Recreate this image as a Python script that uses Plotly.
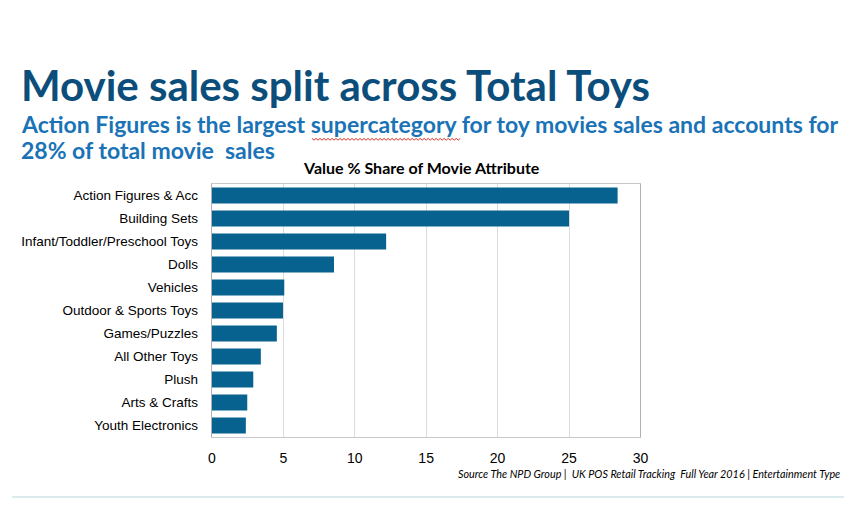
import plotly.graph_objects as go

categories = ["Action Figures & Acc", "Building Sets", "Infant/Toddler/Preschool Toys",
              "Dolls", "Vehicles", "Outdoor & Sports Toys", "Games/Puzzles",
              "All Other Toys", "Plush", "Arts & Crafts", "Youth Electronics"]
values = [28.4, 25.0, 12.2, 8.55, 5.07, 4.98, 4.55, 3.43, 2.9, 2.48, 2.38]
x_ticks = [0, 5, 10, 15, 20, 25, 30]

OFF = 8  # page body margin
W, H = 860 - 2 * OFF, 530 - 2 * OFF


def cx(x):
    # calibrate horizontal position of the photographed page
    return (x - 3.6) / 0.9843


def px(x):
    return (cx(x) - OFF) / W


def py(y):
    return 1 - (y - OFF) / H


fig = go.Figure(go.Bar(
    y=categories, x=values, orientation="h",
    marker=dict(color="#07628f", line=dict(width=0)),
    hoverinfo="x+y",
))

fig.update_layout(
    width=W, height=H, autosize=False,
    margin=dict(l=0, r=0, t=0, b=0),
    paper_bgcolor="white", plot_bgcolor="white",
    bargap=0.3,
    showlegend=False,
    xaxis=dict(domain=[px(211), px(639)], range=[0, 30], tickvals=x_ticks,
               showgrid=True, gridcolor="#dcdcdc", gridwidth=1,
               showline=True, linecolor="#c8c8c8", mirror=True,
               ticks="outside", ticklen=8, tickcolor="rgba(0,0,0,0)",
               tickfont=dict(family="Liberation Sans, Arial", size=14, color="black"),
               zeroline=False, fixedrange=True),
    yaxis=dict(domain=[py(437), py(184)], autorange="reversed",
               categoryorder="array", categoryarray=categories,
               showline=True, linecolor="#b0b0b0", mirror=True,
               ticks="outside", ticklen=10, tickcolor="rgba(0,0,0,0)",
               tickfont=dict(family="Liberation Sans, Arial", size=13.5, color="black"),
               fixedrange=True),
)

annotations = [
    dict(text="<b>Movie sales split across Total Toys</b>", x=px(18), y=py(85),
         xanchor="left", yanchor="middle",
         font=dict(family="Lato", size=42, color="#0c4e7b")),
    dict(text="<b>Action Figures is the largest supercategory for toy movies sales and accounts for</b>",
         x=px(18), y=py(124), xanchor="left", yanchor="middle",
         font=dict(family="Lato", size=23, color="#1a73b6")),
    dict(text="<b>28% of total movie  sales</b>",
         x=px(18), y=py(150), xanchor="left", yanchor="middle",
         font=dict(family="Lato", size=23, color="#1a73b6")),
    dict(text="<b>Value % Share of Movie Attribute</b>", x=px(420), y=py(167),
         xanchor="center", yanchor="middle",
         font=dict(family="Lato", size=16, color="black")),
    dict(text="<i>Source The NPD Group |  UK POS Retail Tracking  Full Year 2016 | Entertainment Type</i>",
         x=px(840), y=py(473), xanchor="right", yanchor="middle",
         font=dict(family="Lato", size=10.8, color="black")),
]
for a in annotations:
    a.update(xref="paper", yref="paper", showarrow=False)
fig.update_layout(annotations=annotations)

# bottom divider line
fig.add_shape(type="line", xref="paper", yref="paper", x0=0, x1=1, y0=py(497), y1=py(497),
              line=dict(color="#cfe3e6", width=1.5))

# spell-check squiggle under "supercategory"
pts = []
xs = 311
i = 0
while xs <= 459:
    pts.append((px(xs), py(139 + (1.2 if i % 2 else -0.6))))
    xs += 2
    i += 1
path = "M " + " L ".join(f"{a:.5f},{b:.5f}" for a, b in pts)
fig.add_shape(type="path", xref="paper", yref="paper", path=path,
              line=dict(color="#d9332b", width=1))

fig.write_html("out.html")
